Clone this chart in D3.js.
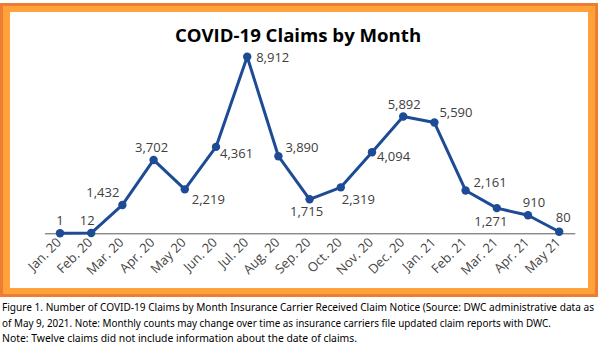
<!DOCTYPE html>
<html><head><meta charset="utf-8">
<script src="https://cdn.jsdelivr.net/npm/d3@7"></script>
<style>body{margin:0;background:#fff}svg{display:block}</style>
</head><body>
<svg id="c" width="602" height="355"></svg>
<script>
const months = ["Jan. 20","Feb. 20","Mar. 20","Apr. 20","May 20","Jun. 20","Jul. 20","Aug. 20","Sep. 20","Oct. 20","Nov. 20","Dec. 20","Jan. 21","Feb. 21","Mar. 21","Apr. 21","May 21"];
const claims = [1,12,1432,3702,2219,4361,8912,3890,1715,2319,4094,5892,5590,2161,1271,910,80];
const title = "COVID-19 Claims by Month";
const captionLines = [
 "Figure 1. Number of COVID-19 Claims by Month Insurance Carrier Received Claim Notice (Source: DWC administrative data as",
 "of May 9, 2021. Note: Monthly counts may change over time as insurance carriers file updated claim reports with DWC.",
 "Note: Twelve claims did not include information about the date of claims."
];
// label offsets [dx, dy, anchor]
const labelPos = [[0,-8,"middle"],[-4,-8,"middle"],[-3,-8,"end"],[-2,-8,"middle"],[7,15,"start"],[4,11,"start"],[9,5,"start"],[7,-4,"start"],[-3,17,"middle"],[1,17,"start"],[5,9,"start"],[1,-8,"middle"],[5,-6,"start"],[8,-3,"start"],[-6,18,"middle"],[6,-8,"middle"],[4,-10,"middle"]];

const svg = d3.select("#c");
// frame
svg.append("rect").attr("x",0).attr("y",3).attr("width",598).attr("height",294).attr("fill","#ed7d31");
svg.append("rect").attr("x",3).attr("y",6).attr("width",592).attr("height",288).attr("fill","#ffa23a");
svg.append("rect").attr("x",10).attr("y",12).attr("width",578).attr("height",276).attr("fill","#ffffff");

svg.append("text").attr("x",298).attr("y",42).attr("text-anchor","middle")
  .attr("font-family","Open Sans").attr("font-weight","bold").attr("font-size",18.6).attr("fill","#000")
  .text(title);

const x = d3.scaleBand().domain(months).range([44.4,574.8]);
const y = d3.scaleLinear().domain([0,9000]).range([233.3,55]);
const cx = d => x(d) + x.bandwidth()/2;

const axis = svg.append("g").attr("transform","translate(0,233.3)")
  .call(d3.axisBottom(x).tickSize(0).tickPadding(0));
axis.attr("font-size",null).attr("font-family",null);
axis.select(".domain").attr("stroke","#595959").attr("stroke-width",1);
axis.selectAll(".tick text")
  .attr("font-family","Open Sans").attr("font-size",13).attr("fill","#454545")
  .attr("text-anchor","end").attr("dy",null).attr("y",0)
  .attr("transform","translate(2,10) rotate(-45)");

const line = d3.line().x((d,i)=>cx(months[i])).y(d=>y(d));
svg.append("path").datum(claims).attr("d",line).attr("fill","none")
  .attr("stroke","#1d4b95").attr("stroke-width",3).attr("stroke-linejoin","round");
svg.selectAll("circle.pt").data(claims).join("circle").attr("class","pt")
  .attr("cx",(d,i)=>cx(months[i])).attr("cy",d=>y(d)).attr("r",4.2).attr("fill","#1d4b95");

svg.selectAll("text.lbl").data(claims).join("text").attr("class","lbl")
  .attr("x",(d,i)=>cx(months[i])+labelPos[i][0]).attr("y",(d,i)=>y(d)+labelPos[i][1])
  .attr("text-anchor",(d,i)=>labelPos[i][2])
  .attr("font-family","Open Sans").attr("font-size",13).attr("fill","#404040")
  .text(d=>d3.format(",")(d));

const cap = svg.append("g");
const targetW = [592, 549, 355];
captionLines.forEach((t,i)=>{
  cap.append("text").attr("x",2).attr("y",311+i*15.5)
    .attr("font-family","Noto Sans").attr("font-size",10.1).attr("fill","#000")
    .attr("textLength",targetW[i]).attr("lengthAdjust","spacingAndGlyphs").text(t);
});
</script>
</body></html>
